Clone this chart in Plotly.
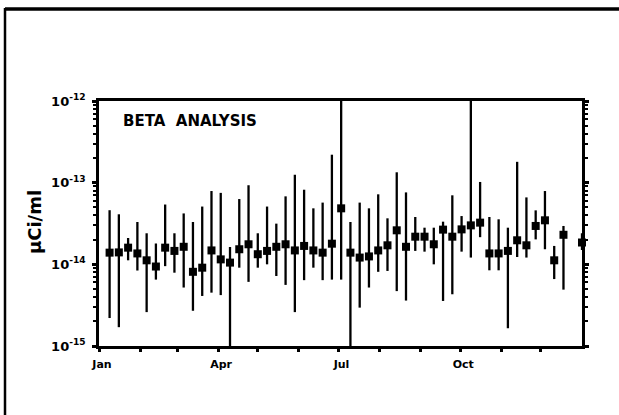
import plotly.graph_objects as go

# Weekly sample end dates (one week in late December missing)
dates = [
    "1985-01-09", "1985-01-16", "1985-01-23", "1985-01-30",
    "1985-02-06", "1985-02-13", "1985-02-20", "1985-02-27",
    "1985-03-06", "1985-03-13", "1985-03-20", "1985-03-27",
    "1985-04-03", "1985-04-10", "1985-04-17", "1985-04-24",
    "1985-05-01", "1985-05-08", "1985-05-15", "1985-05-22", "1985-05-29",
    "1985-06-05", "1985-06-12", "1985-06-19", "1985-06-26",
    "1985-07-03", "1985-07-10", "1985-07-17", "1985-07-24", "1985-07-31",
    "1985-08-07", "1985-08-14", "1985-08-21", "1985-08-28",
    "1985-09-04", "1985-09-11", "1985-09-18", "1985-09-25",
    "1985-10-02", "1985-10-09", "1985-10-16", "1985-10-23", "1985-10-30",
    "1985-11-06", "1985-11-13", "1985-11-20", "1985-11-27",
    "1985-12-04", "1985-12-11", "1985-12-18", "1986-01-01",
]

# Gross beta concentration (uCi/ml)
beta = [
    1.39e-14, 1.40e-14, 1.60e-14, 1.36e-14, 1.12e-14, 9.4e-15, 1.60e-14, 1.46e-14,
    1.64e-14, 8.1e-15, 9.1e-15, 1.48e-14, 1.15e-14, 1.05e-14, 1.53e-14, 1.76e-14,
    1.33e-14, 1.46e-14, 1.64e-14, 1.76e-14, 1.48e-14, 1.68e-14, 1.48e-14, 1.39e-14,
    1.79e-14, 4.85e-14, 1.39e-14, 1.21e-14, 1.25e-14, 1.48e-14, 1.71e-14, 2.61e-14,
    1.64e-14, 2.18e-14, 2.18e-14, 1.76e-14, 2.66e-14, 2.18e-14, 2.68e-14, 3.00e-14,
    3.24e-14, 1.36e-14, 1.36e-14, 1.46e-14, 1.97e-14, 1.71e-14, 2.95e-14, 3.46e-14,
    1.12e-14, 2.30e-14, 1.85e-14,
]

# Upper end of each error bar
beta_high = [
    4.6e-14, 4.1e-14, 2.1e-14, 3.3e-14, 2.4e-14, 1.8e-14, 5.4e-14, 2.4e-14,
    4.2e-14, 3.3e-14, 5.1e-14, 7.9e-14, 7.5e-14, 1.63e-14, 6.3e-14, 9.3e-14,
    2.4e-14, 5.1e-14, 3.15e-14, 6.8e-14, 1.25e-13, 8.2e-14, 4.85e-14, 5.7e-14,
    2.2e-13, 1.0e-12, 3.3e-14, 5.7e-14, 4.85e-14, 7.2e-14, 3.66e-14, 1.34e-13,
    7.6e-14, 3.8e-14, 2.81e-14, 2.81e-14, 3.33e-14, 7.0e-14, 3.9e-14, 1.0e-12,
    1.02e-13, 3.8e-14, 3.56e-14, 2.81e-14, 1.8e-13, 6.6e-14, 4.58e-14, 7.9e-14,
    1.68e-14, 2.95e-14, 2.4e-14,
]

# Lower end of each error bar
beta_low = [
    2.2e-15, 1.7e-15, 1.12e-14, 8.4e-15, 2.6e-15, 6.5e-15, 9.5e-15, 7.9e-15,
    5.2e-15, 2.7e-15, 4.1e-15, 4.5e-15, 4.2e-15, 1.0e-15, 9.1e-15, 6.1e-15,
    9.1e-15, 1.0e-14, 7.2e-15, 5.6e-15, 2.6e-15, 6.4e-15, 9.1e-15, 6.4e-15,
    6.5e-15, 6.5e-15, 1.0e-15, 2.95e-15, 5.2e-15, 8.1e-15, 8.3e-15, 4.7e-15,
    3.6e-15, 1.46e-14, 1.43e-14, 1.0e-14, 3.56e-15, 4.3e-15, 1.43e-14, 1.21e-14,
    2.15e-14, 8.45e-15, 8.45e-15, 1.65e-15, 1.23e-14, 1.21e-14, 2.02e-14, 1.53e-14,
    6.6e-15, 4.9e-15, 1.5e-14,
]

month_ticks = ["1985-%02d-01" % m for m in range(1, 13)]
month_text = ["Jan", "", "", "Apr", "", "", "Jul", "", "", "Oct", "", ""]

y_major = [1e-15, 1e-14, 1e-13, 1e-12]
y_major_text = ["10<sup>-15</sup>", "10<sup>-14</sup>", "10<sup>-13</sup>", "10<sup>-12</sup>"]
y_minor = [m * d for d in (1e-15, 1e-14, 1e-13) for m in range(2, 10)]

err_plus = [h - v for h, v in zip(beta_high, beta)]
err_minus = [v - l for v, l in zip(beta, beta_low)]

FONT = "DejaVu Sans"

fig = go.Figure()
fig.add_trace(go.Scatter(
    x=dates, y=beta, mode="markers",
    marker=dict(symbol="square", size=8, color="black"),
    error_y=dict(type="data", symmetric=False, array=err_plus, arrayminus=err_minus,
                 color="black", thickness=2.3, width=0),
    cliponaxis=False,
))

L, R, T, B = 99, 37, 101, 69
W, H = 619, 415
pw, ph = W - L - R, H - T - B


def px(xp):
    return (xp - L) / pw


def py(yp):
    return (H - B - yp) / ph


fig.update_layout(
    width=W, height=H,
    margin=dict(l=L, r=R, t=T, b=B),
    paper_bgcolor="white", plot_bgcolor="white",
    showlegend=False,
    xaxis=dict(
        type="date", range=["1985-01-01", "1986-01-01"],
        tickmode="array", tickvals=month_ticks, ticktext=month_text,
        ticks="outside", ticklen=3, tickwidth=2.5, tickcolor="black",
        showline=True, linecolor="black", linewidth=2.5, mirror=True,
        showgrid=False, zeroline=False,
        tickfont=dict(family=FONT, size=11, color="black", weight="bold"),
        ticklabelstandoff=3, ticklabelshift=3,
    ),
    yaxis=dict(
        type="log", range=[-15, -12],
        tickmode="array", tickvals=y_major, ticktext=y_major_text,
        ticks="outside", ticklen=4, tickwidth=2.5, tickcolor="black",
        showline=True, linecolor="black", linewidth=2.5, mirror="allticks",
        showgrid=False, zeroline=False,
        tickfont=dict(family=FONT, size=13, color="black", weight="bold"),
        ticklabelstandoff=4,
        minor=dict(tickmode="array", tickvals=y_minor, ticks="outside",
                   ticklen=3, tickwidth=2, tickcolor="black", showgrid=False),
    ),
    annotations=[
        dict(text="BETA  ANALYSIS", xref="paper", yref="paper",
             x=px(121), y=py(121), xanchor="left", yanchor="middle",
             showarrow=False,
             font=dict(family=FONT, size=15, color="black", weight="bold")),
        dict(text="\u03bcCi/ml", xref="paper", yref="paper",
             x=px(34), y=py(222), xanchor="center", yanchor="middle",
             textangle=-90, showarrow=False,
             font=dict(family=FONT, size=18, color="black", weight="bold")),
    ],
    shapes=[
        dict(type="line", xref="paper", yref="paper",
             x0=px(5), x1=px(619), y0=py(9), y1=py(9),
             line=dict(color="black", width=3.5)),
        dict(type="line", xref="paper", yref="paper",
             x0=px(5), x1=px(5), y0=py(8), y1=py(415),
             line=dict(color="black", width=2.5)),
    ],
)

fig.write_html("out.html")
